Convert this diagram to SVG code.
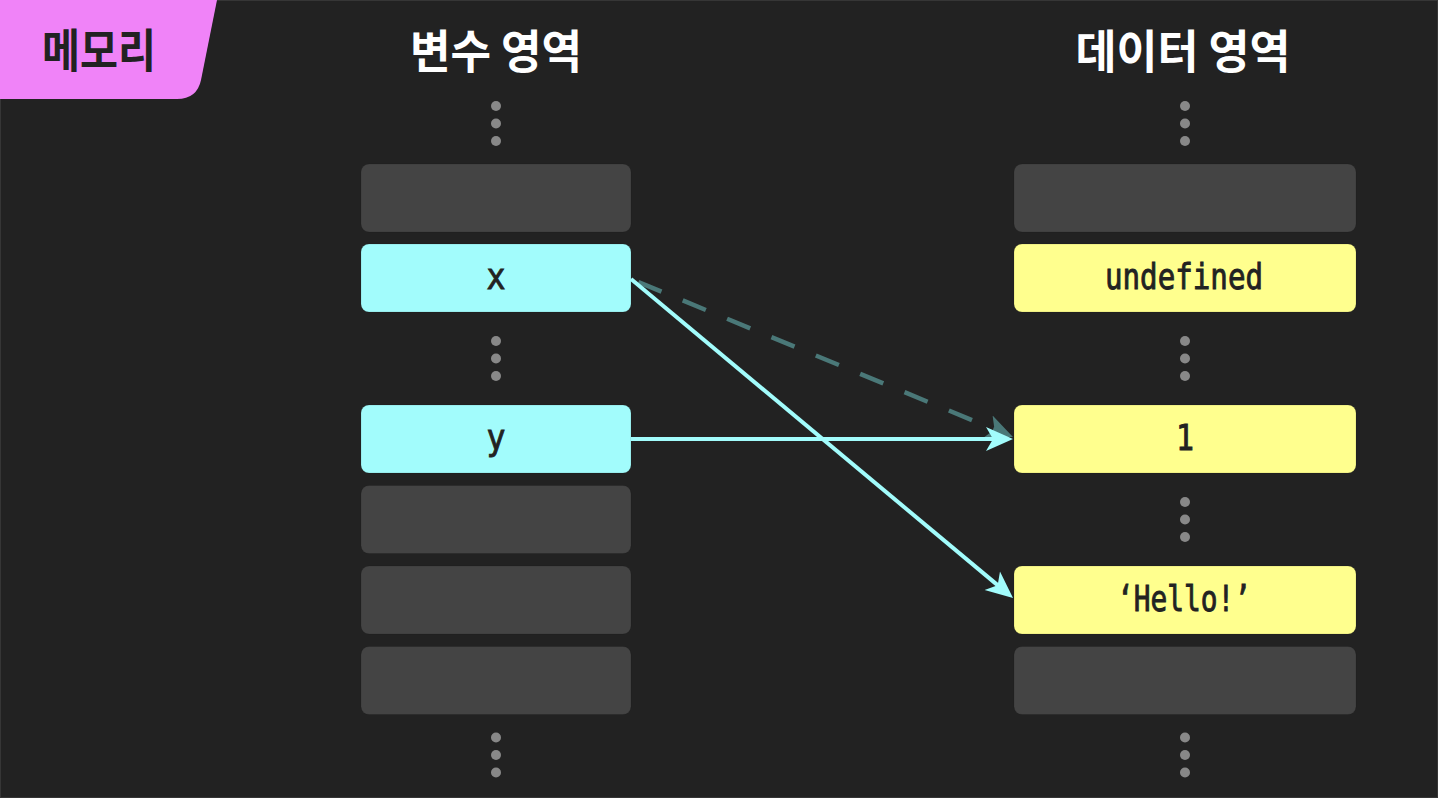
<svg xmlns="http://www.w3.org/2000/svg" width="1438" height="798" viewBox="0 0 1438 798">
<style>
.cell{stroke:rgba(0,0,0,0.12);stroke-width:1}
.empty{fill:#444444}
.var{fill:#a2fcfc}
.data{fill:#ffff8e}
.lbl{font-family:"DejaVu Sans Mono","Liberation Mono",monospace;font-size:35px;fill:#222222;stroke:#222222;stroke-width:0.9;text-anchor:middle}
.title{font-family:"Noto Sans CJK KR","Noto Sans",sans-serif;font-weight:bold;font-size:46px;fill:#ffffff;text-anchor:middle}
.dot{fill:#888888}
</style>
<defs>
<marker id="ah" markerUnits="userSpaceOnUse" markerWidth="30" markerHeight="30" viewBox="0 -15 30 30" refX="12" refY="0" orient="auto">
<path d="M0,-12 L27,0 L0,12 L7,0 Z" fill="#a2fcfc"/>
</marker>
<marker id="ahd" markerUnits="userSpaceOnUse" markerWidth="30" markerHeight="30" viewBox="0 -15 30 30" refX="12" refY="0" orient="auto">
<path d="M0,-12 L27,0 L0,12 L7,0 Z" fill="#4a7878"/>
</marker>
<g id="dots3">
<circle class="dot" cx="0" cy="-17.5" r="5"/>
<circle class="dot" cx="0" cy="0" r="5"/>
<circle class="dot" cx="0" cy="17.5" r="5"/>
</g>
</defs>
<rect x="0" y="0" width="1438" height="798" fill="#222222"/>
<rect x="0.5" y="0.5" width="1437" height="797" fill="none" stroke="#363636" stroke-width="1"/>

<g id="memory-tab">
<path d="M0,0 L217,0 L201,80 Q197,99 177,99 L0,99 Z" fill="#f083f8"/>
<text x="99" y="67" font-family="'Noto Sans CJK KR','Noto Sans',sans-serif" font-weight="bold" font-size="46" fill="#222222" text-anchor="middle" textLength="114" lengthAdjust="spacingAndGlyphs">메모리</text>
</g>

<g id="var-area">
<text class="title" x="496" y="68" textLength="172" lengthAdjust="spacingAndGlyphs">변수 영역</text>
<use href="#dots3" x="496" y="123.5"/>
<rect class="cell empty" x="361" y="164" width="270" height="68" rx="8"/>
<g id="var-x">
<rect class="cell var" x="361" y="244" width="270" height="68" rx="8"/>
<text class="lbl" x="496" y="289" textLength="19" lengthAdjust="spacingAndGlyphs">x</text>
</g>
<use href="#dots3" x="496" y="358.5"/>
<g id="var-y">
<rect class="cell var" x="361" y="405" width="270" height="68" rx="8"/>
<text class="lbl" x="496" y="450" textLength="19" lengthAdjust="spacingAndGlyphs">y</text>
</g>
<rect class="cell empty" x="361" y="485.5" width="270" height="68" rx="8"/>
<rect class="cell empty" x="361" y="566" width="270" height="68" rx="8"/>
<rect class="cell empty" x="361" y="646.5" width="270" height="68" rx="8"/>
<use href="#dots3" x="496" y="755"/>
</g>

<g id="data-area">
<text class="title" x="1183" y="68" textLength="215" lengthAdjust="spacingAndGlyphs">데이터 영역</text>
<use href="#dots3" x="1185" y="123.5"/>
<rect class="cell empty" x="1014" y="164" width="342" height="68" rx="8"/>
<g id="data-undefined">
<rect class="cell data" x="1014" y="244" width="342" height="68" rx="8"/>
<text class="lbl" x="1184" y="289" textLength="158" lengthAdjust="spacingAndGlyphs">undefined</text>
</g>
<use href="#dots3" x="1185" y="358.5"/>
<g id="data-1">
<rect class="cell data" x="1014" y="405" width="342" height="68" rx="8"/>
<text class="lbl" x="1185" y="450" textLength="18" lengthAdjust="spacingAndGlyphs">1</text>
</g>
<use href="#dots3" x="1185" y="519.5"/>
<g id="data-hello">
<rect class="cell data" x="1014" y="566" width="342" height="68" rx="8"/>
<text class="lbl" x="1184" y="611" textLength="134" lengthAdjust="spacingAndGlyphs">‘Hello!’</text>
</g>
<rect class="cell empty" x="1014" y="646.5" width="342" height="68" rx="8"/>
<use href="#dots3" x="1185" y="755"/>
</g>

<g id="connectors" fill="none" stroke-linecap="butt">
<path d="M631,279 L999.1,431.3" stroke="#4a7878" stroke-width="4.5" stroke-dasharray="25 23" stroke-dashoffset="-8" marker-end="url(#ahd)"/>
<path d="M631,439 L998,439" stroke="#a2fcfc" stroke-width="4" marker-end="url(#ah)"/>
<path d="M631,279 L1001.5,588.4" stroke="#a2fcfc" stroke-width="4" marker-end="url(#ah)"/>
</g>
</svg>
